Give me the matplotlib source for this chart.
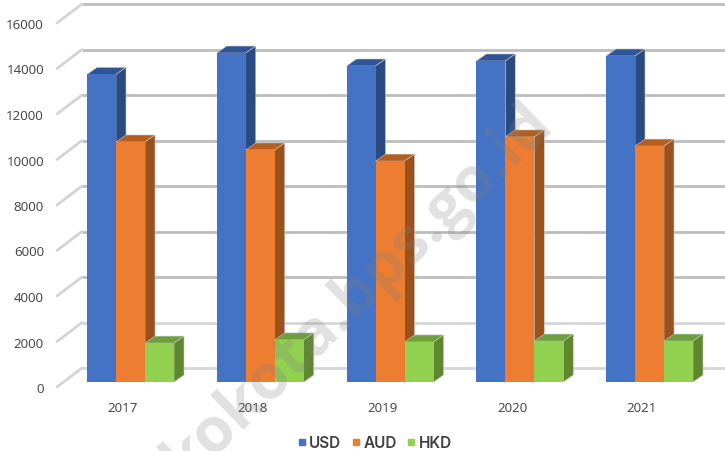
import matplotlib
matplotlib.use('Agg')
import matplotlib.pyplot as plt
from matplotlib.lines import Line2D
from matplotlib.patches import Polygon
from matplotlib.transforms import ScaledTranslation

years = ['2017', '2018', '2019', '2020', '2021']
usd = [13520, 14460, 13890, 14110, 14330]
aud = [10550, 10200, 9710, 10770, 10370]
hkd = [1710, 1850, 1760, 1800, 1800]
yticks = [0, 2000, 4000, 6000, 8000, 10000, 12000, 14000, 16000]

WIDTH, HEIGHT = 725, 452
PX_X = 129.75      # pixels per category
PX_Y = 0.02275     # pixels per value unit
BAR_W = 29 / PX_X
DEPTH_X = 10 / PX_X
DEPTH_Y = 7 / PX_Y

fig = plt.figure(figsize=(WIDTH / 100, HEIGHT / 100), dpi=100)
plt.rcParams['font.family'] = ['Open Sans', 'DejaVu Sans']
ax = fig.add_axes([57 / WIDTH, (HEIGHT - 383) / HEIGHT, (WIDTH - 57) / WIDTH, 364 / HEIGHT])
ax.set_xlim((57 - 130.5) / PX_X, (WIDTH - 130.5) / PX_X)
ax.set_ylim(0, 16000)
for spine in ax.spines.values():
    spine.set_visible(False)

# back wall gridlines and the slanted left wall lines
x_left = ax.get_xlim()[0]
x_back = x_left + 25 / PX_X
x_right = ax.get_xlim()[1]
for v in yticks:
    y_back = v + 14 / PX_Y
    y_front = v - 5 / PX_Y
    grey = '#bdbdbd' if v >= 4000 else '#d6d6d6'
    ax.plot([x_back, x_right], [y_back, y_back], color=grey, lw=2.0, clip_on=False,
            solid_capstyle='butt', zorder=1)
    ax.plot([x_left, x_back], [y_front, y_back], color='#d4d4d4', lw=2.0, clip_on=False,
            solid_capstyle='round', zorder=1)


def draw_bar(left, value, front, top, side, z):
    right = left + BAR_W
    ax.add_patch(Polygon([(left, value), (right, value), (right + DEPTH_X, value + DEPTH_Y),
                          (left + DEPTH_X, value + DEPTH_Y)], closed=True, facecolor=top,
                         edgecolor='#c8c8c8', linewidth=0.4, clip_on=False, zorder=z))
    ax.add_patch(Polygon([(right, 0), (right + DEPTH_X, DEPTH_Y), (right + DEPTH_X, value + DEPTH_Y),
                          (right, value)], closed=True, facecolor=side, edgecolor='#c8c8c8',
                         linewidth=0.4, clip_on=False, zorder=z))
    ax.bar(left, value, BAR_W, align='edge', color=front, linewidth=0, zorder=z + 0.2)


series = [
    (usd, '#4472c4', '#2f5597', '#2a4a82', -1.5),
    (aud, '#ed7d31', '#b45f20', '#9a511c', -0.5),
    (hkd, '#92d050', '#6e9f3c', '#5f8730', 0.5),
]
for i in range(len(years)):
    for j, (vals, front, top, side, off) in enumerate(series):
        draw_bar(i + off * BAR_W, vals[i], front, top, side, 2 + j * 0.5 + i)

ax.set_xticks(range(len(years)))
ax.set_xticklabels(years)
ax.set_yticks(yticks)
ax.set_yticklabels([str(v) for v in yticks])
ax.tick_params(axis='both', length=0, labelsize=9.6, labelcolor='#404040')
ax.tick_params(axis='y', pad=9.4)
ax.tick_params(axis='x', pad=14)
shift_x = ScaledTranslation(-7.5 / 100, 0, fig.dpi_scale_trans)
shift_y = ScaledTranslation(0, -5 / 100, fig.dpi_scale_trans)
for label in ax.get_xticklabels():
    label.set_transform(label.get_transform() + shift_x)
for label in ax.get_yticklabels():
    label.set_transform(label.get_transform() + shift_y)

handles = [Line2D([], [], linestyle='none', marker='s', markersize=5.0, color=c)
           for c in ['#4472c4', '#ed7d31', '#92d050']]
fig.legend(handles, ['USD', 'AUD', 'HKD'], ncol=3, loc='center', bbox_to_anchor=(375 / WIDTH, (HEIGHT - 444) / HEIGHT),
           frameon=False, handlelength=0.5, handletextpad=0.25, columnspacing=0.7, borderpad=0, labelcolor='#404040',
           prop={'family': 'Inter', 'size': 11, 'weight': 'semibold'})

# site watermark lying over the whole chart
fig.text(358 / WIDTH, (HEIGHT - 292) / HEIGHT, 'kokota.bps.go.id', rotation=44, ha='center', va='center',
         fontsize=45, fontweight='bold', color='#808080', alpha=0.24, zorder=20)

fig.savefig('out.png', dpi=100)
